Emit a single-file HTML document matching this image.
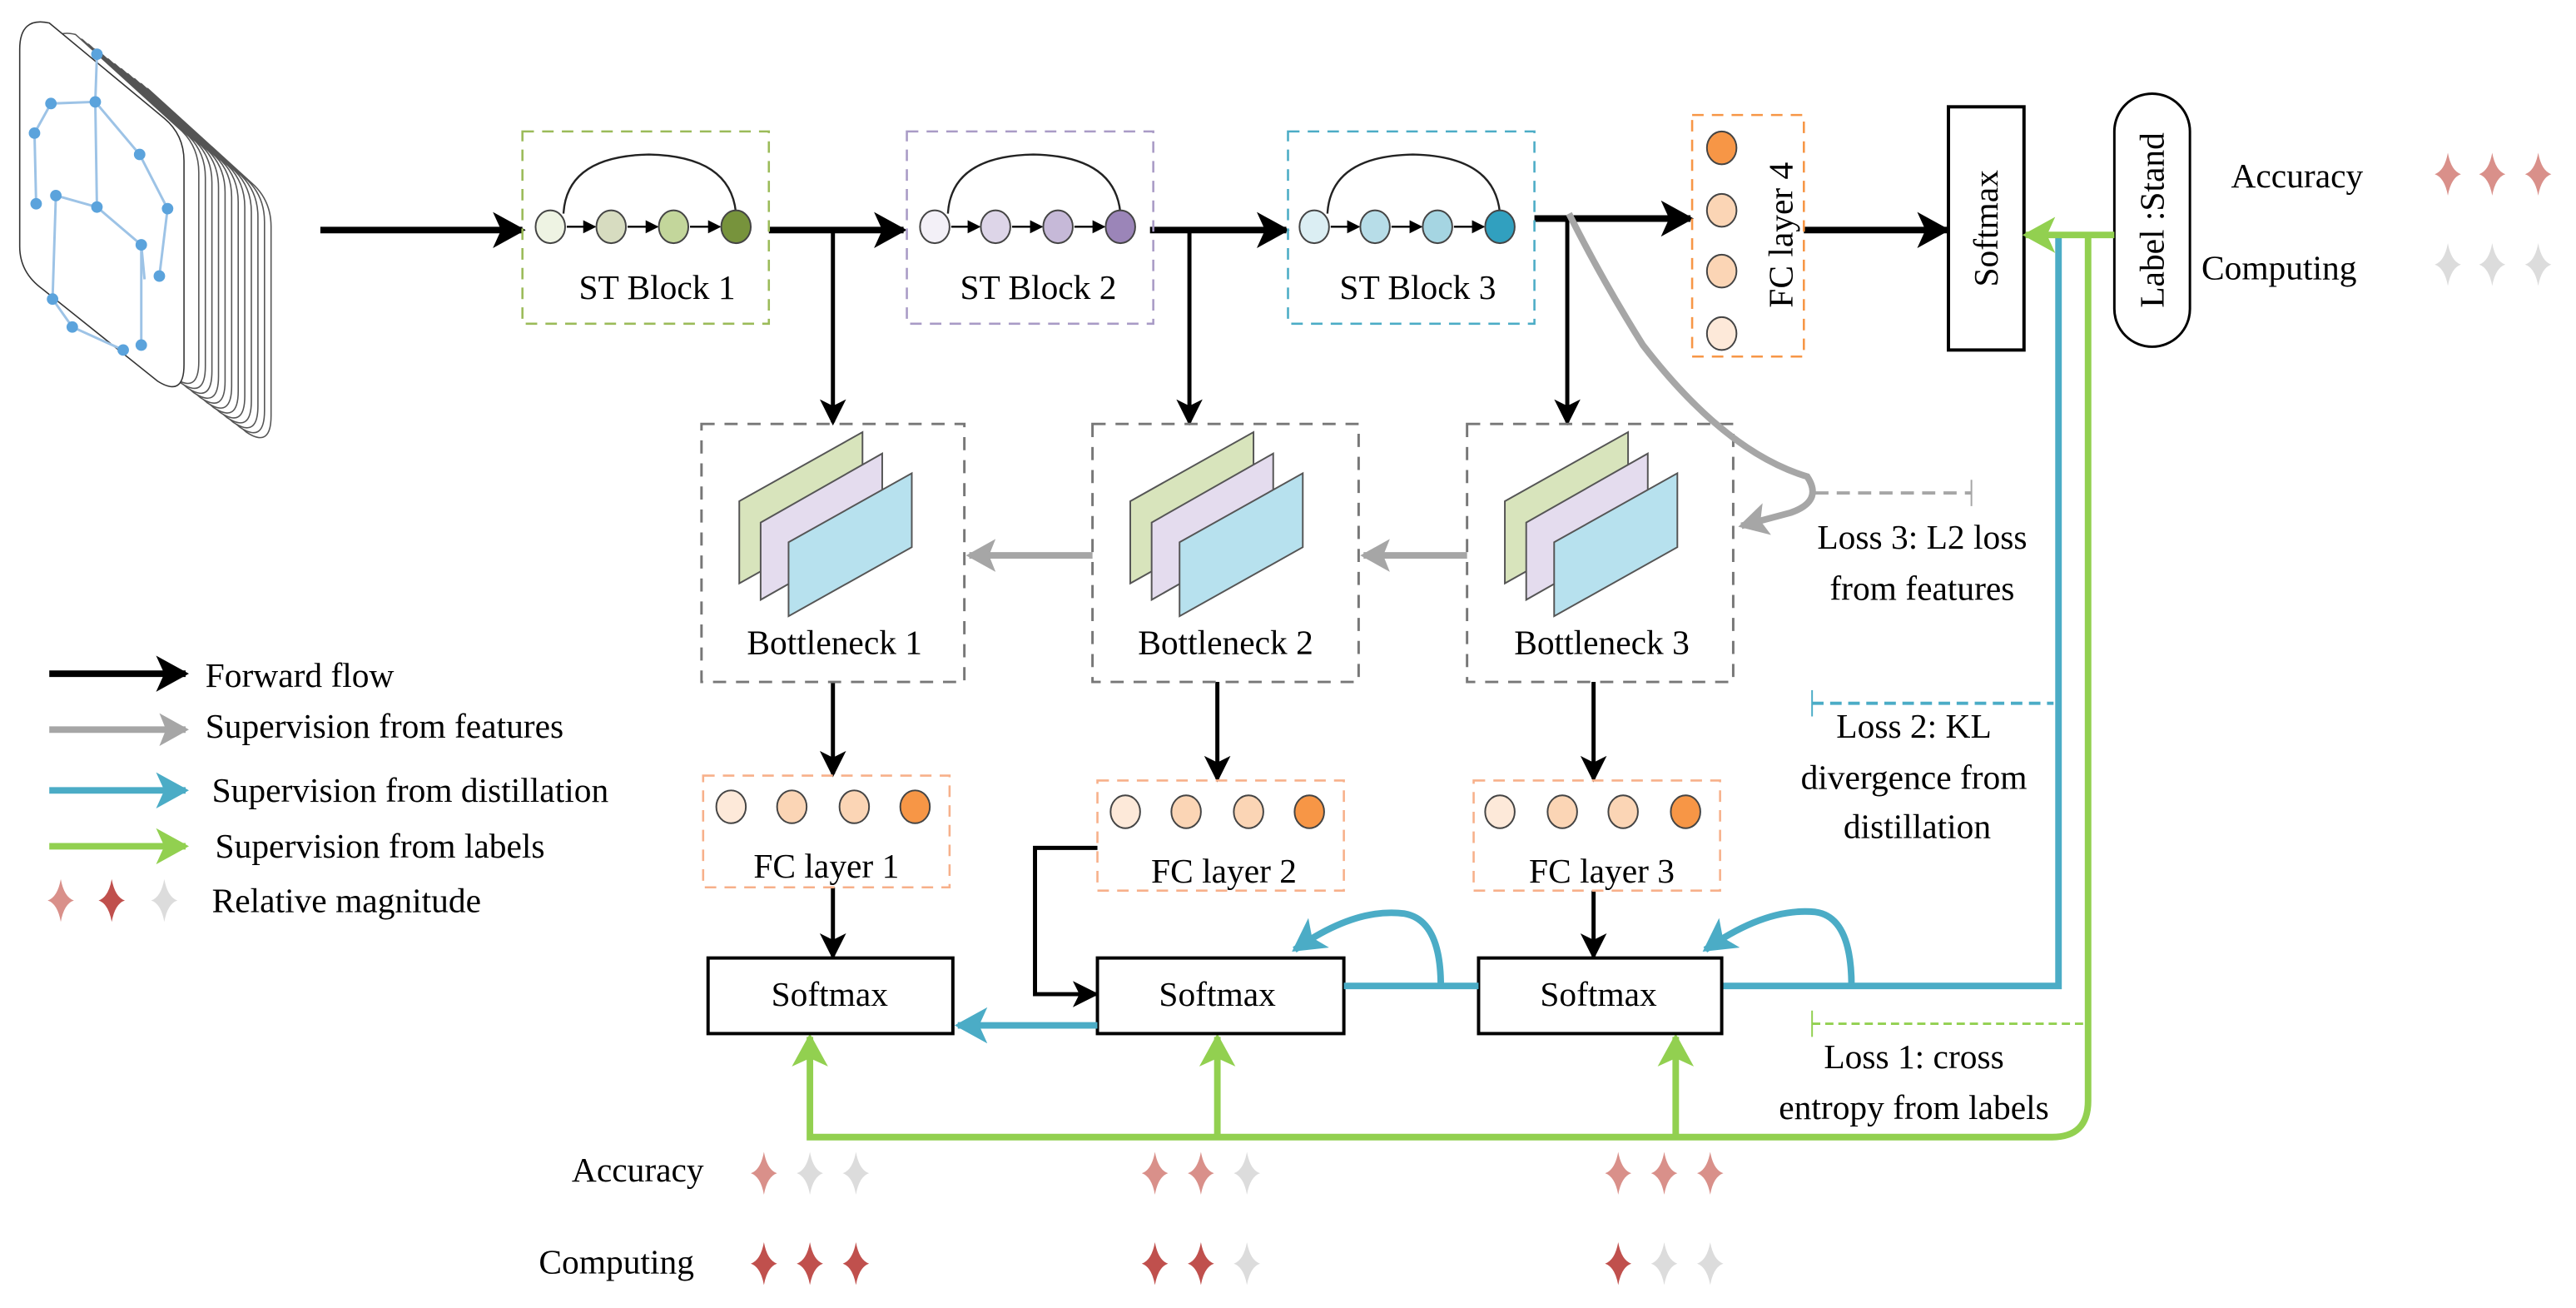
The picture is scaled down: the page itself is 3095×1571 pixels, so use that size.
<!DOCTYPE html>
<html><head><meta charset="utf-8"><style>
html,body{margin:0;padding:0;background:#fff;}
svg{display:block;}
svg text{font-family:"Liberation Serif","DejaVu Serif",serif;fill:#000;}
</style></head><body>
<svg width="3095" height="1571" viewBox="0 0 1568 796" preserveAspectRatio="none" xmlns="http://www.w3.org/2000/svg" font-family="Liberation Serif, serif">
<defs>
<marker id="kB" markerUnits="userSpaceOnUse" markerWidth="22" markerHeight="22" refX="18" refY="11" orient="auto"><path d="M0,0 L20,11 L0,22 L5,11 Z" fill="#000"/></marker>
<marker id="kS" markerUnits="userSpaceOnUse" markerWidth="16" markerHeight="16" refX="14" refY="8" orient="auto"><path d="M0,0 L16,8 L0,16 L4,8 Z" fill="#000"/></marker>
<marker id="kT" markerUnits="userSpaceOnUse" markerWidth="8" markerHeight="8" refX="7" refY="4" orient="auto"><path d="M0,0 L8,4 L0,8 Z" fill="#000"/></marker>
<marker id="gA" markerUnits="userSpaceOnUse" markerWidth="20" markerHeight="20" refX="16" refY="10" orient="auto"><path d="M0,0 L18,10 L0,20 L4,10 Z" fill="#a6a6a6"/></marker>
<marker id="bA" markerUnits="userSpaceOnUse" markerWidth="22" markerHeight="22" refX="18" refY="11" orient="auto"><path d="M0,0 L20,11 L0,22 L5,11 Z" fill="#4bacc6"/></marker>
<marker id="nA" markerUnits="userSpaceOnUse" markerWidth="22" markerHeight="22" refX="18" refY="11" orient="auto"><path d="M0,0 L20,11 L0,22 L5,11 Z" fill="#92d050"/></marker>
<path id="star" d="M0,-13 Q2,-2 8,0 Q2,2 0,13 Q-2,2 -8,0 Q-2,-2 0,-13Z"/>
</defs>

<!-- skeleton stack -->
<g fill="#fff" stroke="#555" stroke-width="0.8">
<path d="M74,68 Q74,50 90,54 L155,113 Q165,123 165,138 L165,253 Q165,273 150,263 L86,208 Q74,198 74,183 Z"/>
<path d="M70,65 Q70,47 86,51 L151,110 Q161,120 161,135 L161,250 Q161,270 146,260 L82,205 Q70,195 70,180 Z"/>
<path d="M66,62 Q66,44 82,48 L147,107 Q157,117 157,132 L157,247 Q157,267 142,257 L78,202 Q66,192 66,177 Z"/>
<path d="M62,59 Q62,41 78,45 L143,104 Q153,114 153,129 L153,244 Q153,264 138,254 L74,199 Q62,189 62,174 Z"/>
<path d="M58,56 Q58,38 74,42 L139,101 Q149,111 149,126 L149,241 Q149,261 134,251 L70,196 Q58,186 58,171 Z"/>
<path d="M54,53 Q54,35 70,39 L135,98 Q145,108 145,123 L145,238 Q145,258 130,248 L66,193 Q54,183 54,168 Z"/>
<path d="M50,50 Q50,32 66,36 L131,95 Q141,105 141,120 L141,235 Q141,255 126,245 L62,190 Q50,180 50,165 Z"/>
<path d="M46,47 Q46,29 62,33 L127,92 Q137,102 137,117 L137,232 Q137,252 122,242 L58,187 Q46,177 46,162 Z"/>
<path d="M42,44 Q42,26 58,30 L123,89 Q133,99 133,114 L133,229 Q133,249 118,239 L54,184 Q42,174 42,159 Z"/>
<path d="M38,41 Q38,23 54,27 L119,86 Q129,96 129,111 L129,226 Q129,246 114,236 L50,181 Q38,171 38,156 Z"/>
<path d="M34,38 Q34,20 50,24 L115,83 Q125,93 125,108 L125,223 Q125,243 110,233 L46,178 Q34,168 34,153 Z"/>
<path d="M30,35 Q30,17 46,21 L111,80 Q121,90 121,105 L121,220 Q121,240 106,230 L42,175 Q30,165 30,150 Z"/>
<path d="M12,30 Q12,10 30,14 L100,72 Q112,82 112,98 L112,222 Q112,242 96,232 L26,176 Q12,166 12,150 Z" stroke="#333"/>
</g>
<g stroke="#9dc3e6" stroke-width="1.5" fill="none">
<path d="M59,33 L58,62 L31,63 L21,81 L22,124"/><path d="M58,62 L59,126"/><path d="M58,62 L85,94 L102,127 L97,168"/>
<path d="M34,119 L59,126 L86,149 L88,170"/><path d="M34,119 L32,182 L44,199 L75,213"/><path d="M86,149 L86,210"/>
</g>
<g fill="#5ba3dc">
<circle cx="59" cy="33" r="3.5"/><circle cx="58" cy="62" r="3.5"/><circle cx="31" cy="63" r="3.5"/><circle cx="21" cy="81" r="3.5"/><circle cx="85" cy="94" r="3.5"/><circle cx="22" cy="124" r="3.5"/><circle cx="34" cy="119" r="3.5"/><circle cx="59" cy="126" r="3.5"/><circle cx="102" cy="127" r="3.5"/><circle cx="86" cy="149" r="3.5"/><circle cx="97" cy="168" r="3.5"/><circle cx="32" cy="182" r="3.5"/><circle cx="44" cy="199" r="3.5"/><circle cx="75" cy="213" r="3.5"/><circle cx="86" cy="210" r="3.5"/>
</g>

<!-- main forward arrows -->
<g stroke="#000" stroke-width="4" fill="none">
<line x1="195" y1="140" x2="318" y2="140" marker-end="url(#kB)"/>
<line x1="468" y1="140" x2="550" y2="140" marker-end="url(#kB)"/>
<line x1="700" y1="140" x2="783" y2="140" marker-end="url(#kB)"/>
<line x1="934" y1="133" x2="1029" y2="133" marker-end="url(#kB)"/>
<line x1="1098" y1="140" x2="1185" y2="140" marker-end="url(#kB)"/>
</g>
<g stroke="#000" stroke-width="2.5" fill="none">
<line x1="507" y1="140" x2="507" y2="257" marker-end="url(#kS)"/>
<line x1="724" y1="140" x2="724" y2="257" marker-end="url(#kS)"/>
<line x1="954" y1="133" x2="954" y2="257" marker-end="url(#kS)"/>
<line x1="507" y1="415" x2="507" y2="471" marker-end="url(#kS)"/>
<line x1="741" y1="415" x2="741" y2="474" marker-end="url(#kS)"/>
<line x1="970" y1="415" x2="970" y2="474" marker-end="url(#kS)"/>
<line x1="507" y1="540" x2="507" y2="582" marker-end="url(#kS)"/>
<line x1="970" y1="542" x2="970" y2="582" marker-end="url(#kS)"/>
<path d="M668,516 L630,516 L630,605 L667,605" marker-end="url(#kS)"/>
</g>

<!-- ST blocks -->
<g fill="none" stroke-width="1.3" stroke-dasharray="7,5">
<rect x="318" y="80" width="150" height="117" stroke="#9bbb59"/>
<rect x="552" y="80" width="150" height="117" stroke="#a99bc6"/>
<rect x="784" y="80" width="150" height="117" stroke="#4bacc6"/>
</g>
<g stroke="#222" stroke-width="1.2" fill="none">
<path d="M343,130 Q345,95 395,94 Q445,95 448,130"/>
<path d="M577,130 Q579,95 629,94 Q679,95 682,130"/>
<path d="M808,130 Q810,95 860,94 Q910,95 913,130"/>
</g>
<g stroke="#000" stroke-width="1.2" marker-end="url(#kT)">
<line x1="345" y1="138" x2="362" y2="138"/><line x1="382" y1="138" x2="400" y2="138"/><line x1="420" y1="138" x2="438" y2="138"/>
<line x1="579" y1="138" x2="596" y2="138"/><line x1="616" y1="138" x2="634" y2="138"/><line x1="654" y1="138" x2="672" y2="138"/>
<line x1="810" y1="138" x2="827" y2="138"/><line x1="847" y1="138" x2="865" y2="138"/><line x1="885" y1="138" x2="903" y2="138"/>
</g>
<g stroke="#444" stroke-width="1">
<ellipse cx="335" cy="138" rx="9" ry="10" fill="#eef3e3"/><ellipse cx="372" cy="138" rx="9" ry="10" fill="#d7dcc0"/><ellipse cx="410" cy="138" rx="9" ry="10" fill="#c3d69b"/><ellipse cx="448" cy="138" rx="9" ry="10" fill="#77933c"/>
<ellipse cx="569" cy="138" rx="9" ry="10" fill="#f3f0f7"/><ellipse cx="606" cy="138" rx="9" ry="10" fill="#ddd5e8"/><ellipse cx="644" cy="138" rx="9" ry="10" fill="#c6b9d8"/><ellipse cx="682" cy="138" rx="9" ry="10" fill="#9b85b8"/>
<ellipse cx="800" cy="138" rx="9" ry="10" fill="#dbeef3"/><ellipse cx="837" cy="138" rx="9" ry="10" fill="#b7dde8"/><ellipse cx="875" cy="138" rx="9" ry="10" fill="#a5d5e2"/><ellipse cx="913" cy="138" rx="9" ry="10" fill="#31a0bf"/>
</g>
<g font-size="21" text-anchor="middle">
<text x="400" y="182">ST Block 1</text><text x="632" y="182">ST Block 2</text><text x="863" y="182">ST Block 3</text>
</g>

<!-- FC layer 4 -->
<rect x="1030" y="70" width="68" height="147" fill="none" stroke="#f79646" stroke-width="1.3" stroke-dasharray="7,5"/>
<g stroke="#444" stroke-width="1">
<ellipse cx="1048" cy="90" rx="9" ry="10" fill="#f79646"/><ellipse cx="1048" cy="128" rx="9" ry="10" fill="#fbd5b5"/><ellipse cx="1048" cy="165" rx="9" ry="10" fill="#fbd5b5"/><ellipse cx="1048" cy="203" rx="9" ry="10" fill="#fde9d9"/>
</g>
<text x="0" y="0" font-size="21" text-anchor="middle" transform="translate(1091,143) rotate(-90)">FC layer 4</text>

<!-- top softmax and label -->
<rect x="1186" y="65" width="46" height="148" fill="#fff" stroke="#000" stroke-width="2"/>
<text font-size="21" text-anchor="middle" transform="translate(1216,139) rotate(-90)">Softmax</text>
<rect x="1287" y="57" width="46" height="154" rx="23" ry="23" fill="#fff" stroke="#000" stroke-width="1.5"/>
<text font-size="21" text-anchor="middle" transform="translate(1317,134) rotate(-90)">Label :Stand</text>

<text x="1358" y="114" font-size="21">Accuracy</text>
<text x="1340" y="170" font-size="21">Computing</text>
<g fill="#d9908a"><use href="#star" x="1490" y="106"/><use href="#star" x="1517" y="106"/><use href="#star" x="1545" y="106"/></g>
<g fill="#dcdcdc"><use href="#star" x="1490" y="161"/><use href="#star" x="1517" y="161"/><use href="#star" x="1545" y="161"/></g>

<!-- blue & green long lines -->
<path d="M1048,600 L1253,600 L1253,144" fill="none" stroke="#4bacc6" stroke-width="4"/>
<path d="M1287,143 L1233,143" fill="none" stroke="#92d050" stroke-width="4" marker-end="url(#nA)"/>
<path d="M1271,143 L1271,670 Q1271,692 1249,692 L493,692 L493,631" fill="none" stroke="#92d050" stroke-width="4" marker-end="url(#nA)"/>
<path d="M741,692 L741,631" fill="none" stroke="#92d050" stroke-width="4" marker-end="url(#nA)"/>
<path d="M1020,692 L1020,631" fill="none" stroke="#92d050" stroke-width="4" marker-end="url(#nA)"/>

<!-- Bottlenecks -->
<g fill="none" stroke="#777" stroke-width="1.5" stroke-dasharray="8,6">
<rect x="427" y="258" width="160" height="157"/>
<rect x="665" y="258" width="162" height="157"/>
<rect x="893" y="258" width="162" height="157"/>
</g>
<g stroke="#555" stroke-width="1">
<g><polygon points="450,305 525,263 525,313 450,355" fill="#d8e4bc"/><polygon points="463,318 537,276 537,323 463,365" fill="#e4dcee"/><polygon points="480,330 555,288 555,333 480,375" fill="#b7e1ee"/></g>
<g transform="translate(238,0)"><polygon points="450,305 525,263 525,313 450,355" fill="#d8e4bc"/><polygon points="463,318 537,276 537,323 463,365" fill="#e4dcee"/><polygon points="480,330 555,288 555,333 480,375" fill="#b7e1ee"/></g>
<g transform="translate(466,0)"><polygon points="450,305 525,263 525,313 450,355" fill="#d8e4bc"/><polygon points="463,318 537,276 537,323 463,365" fill="#e4dcee"/><polygon points="480,330 555,288 555,333 480,375" fill="#b7e1ee"/></g>
</g>
<g font-size="21" text-anchor="middle">
<text x="508" y="398">Bottleneck 1</text><text x="746" y="398">Bottleneck 2</text><text x="975" y="398">Bottleneck 3</text>
</g>
<g stroke="#a6a6a6" stroke-width="4" fill="none">
<line x1="665" y1="338" x2="590" y2="338" marker-end="url(#gA)"/>
<line x1="893" y1="338" x2="830" y2="338" marker-end="url(#gA)"/>
<path d="M955,130 Q975,170 1000,210 Q1050,275 1100,290 Q1110,305 1090,312 L1060,320" marker-end="url(#gA)"/>
</g>
<line x1="1105" y1="300" x2="1200" y2="300" stroke="#a6a6a6" stroke-width="2" stroke-dasharray="8,5"/>
<line x1="1200" y1="292" x2="1200" y2="308" stroke="#a6a6a6" stroke-width="1"/>
<g font-size="21" text-anchor="middle">
<text x="1170" y="334">Loss 3: L2 loss</text><text x="1170" y="365">from features</text>
</g>

<!-- FC layers -->
<g fill="none" stroke="#f7b08a" stroke-width="1.3" stroke-dasharray="7,5">
<rect x="428" y="472" width="150" height="68"/><rect x="668" y="475" width="150" height="67"/><rect x="897" y="475" width="150" height="67"/>
</g>
<g stroke="#444" stroke-width="1">
<ellipse cx="445" cy="491" rx="9" ry="10" fill="#fde9d9"/><ellipse cx="482" cy="491" rx="9" ry="10" fill="#fbd5b5"/><ellipse cx="520" cy="491" rx="9" ry="10" fill="#fbd5b5"/><ellipse cx="557" cy="491" rx="9" ry="10" fill="#f79646"/>
<ellipse cx="685" cy="494" rx="9" ry="10" fill="#fde9d9"/><ellipse cx="722" cy="494" rx="9" ry="10" fill="#fbd5b5"/><ellipse cx="760" cy="494" rx="9" ry="10" fill="#fbd5b5"/><ellipse cx="797" cy="494" rx="9" ry="10" fill="#f79646"/>
<ellipse cx="913" cy="494" rx="9" ry="10" fill="#fde9d9"/><ellipse cx="951" cy="494" rx="9" ry="10" fill="#fbd5b5"/><ellipse cx="988" cy="494" rx="9" ry="10" fill="#fbd5b5"/><ellipse cx="1026" cy="494" rx="9" ry="10" fill="#f79646"/>
</g>
<g font-size="21" text-anchor="middle">
<text x="503" y="534">FC layer 1</text><text x="745" y="537">FC layer 2</text><text x="975" y="537">FC layer 3</text>
</g>

<!-- softmax boxes -->
<g fill="#fff" stroke="#000" stroke-width="2">
<rect x="431" y="583" width="149" height="46"/><rect x="668" y="583" width="150" height="46"/><rect x="900" y="583" width="148" height="46"/>
</g>
<g font-size="21" text-anchor="middle">
<text x="505" y="612">Softmax</text><text x="741" y="612">Softmax</text><text x="973" y="612">Softmax</text>
</g>
<g stroke="#4bacc6" stroke-width="4" fill="none">
<line x1="668" y1="624" x2="583" y2="624" marker-end="url(#bA)"/>
<line x1="900" y1="600" x2="818" y2="600"/>
<path d="M877,600 Q877,560 855,556 Q825,552 788,578" marker-end="url(#bA)"/>
<path d="M1127,600 Q1127,558 1105,555 Q1075,552 1038,578" marker-end="url(#bA)"/>
</g>

<!-- Loss 2 / Loss 1 -->
<line x1="1103" y1="428" x2="1250" y2="428" stroke="#4bacc6" stroke-width="2" stroke-dasharray="7,4"/>
<line x1="1103" y1="420" x2="1103" y2="436" stroke="#4bacc6" stroke-width="1"/>
<line x1="1103" y1="623" x2="1268" y2="623" stroke="#92d050" stroke-width="1.5" stroke-dasharray="5,3"/>
<line x1="1103" y1="615" x2="1103" y2="631" stroke="#92d050" stroke-width="1"/>
<g font-size="21" text-anchor="middle">
<text x="1165" y="449">Loss 2: KL</text><text x="1165" y="480">divergence from</text><text x="1167" y="510">distillation</text>
<text x="1165" y="650">Loss 1: cross</text><text x="1165" y="681">entropy from labels</text>
</g>

<!-- legend -->
<line x1="30" y1="410" x2="113" y2="410" stroke="#000" stroke-width="4" marker-end="url(#kB)"/>
<line x1="30" y1="444" x2="113" y2="444" stroke="#a6a6a6" stroke-width="4" marker-end="url(#gA)"/>
<line x1="30" y1="481" x2="113" y2="481" stroke="#4bacc6" stroke-width="4" marker-end="url(#bA)"/>
<line x1="30" y1="515" x2="113" y2="515" stroke="#92d050" stroke-width="4" marker-end="url(#nA)"/>
<g font-size="21">
<text x="125" y="418">Forward flow</text><text x="125" y="449">Supervision from features</text><text x="129" y="488">Supervision from distillation</text><text x="131" y="522">Supervision from labels</text><text x="129" y="555">Relative magnitude</text>
</g>
<use href="#star" x="37" y="548" fill="#d9908a"/><use href="#star" x="68" y="548" fill="#c0504d"/><use href="#star" x="100" y="548" fill="#dcdcdc"/>

<!-- bottom ratings -->
<g font-size="21"><text x="348" y="719">Accuracy</text><text x="328" y="775">Computing</text></g>
<g fill="#d9908a"><use href="#star" x="465" y="714"/><use href="#star" x="703" y="714"/><use href="#star" x="731" y="714"/><use href="#star" x="985" y="714"/><use href="#star" x="1013" y="714"/><use href="#star" x="1041" y="714"/></g>
<g fill="#dcdcdc"><use href="#star" x="493" y="714"/><use href="#star" x="521" y="714"/><use href="#star" x="759" y="714"/><use href="#star" x="759" y="769"/><use href="#star" x="1013" y="769"/><use href="#star" x="1041" y="769"/></g>
<g fill="#c0504d"><use href="#star" x="465" y="769"/><use href="#star" x="493" y="769"/><use href="#star" x="521" y="769"/><use href="#star" x="703" y="769"/><use href="#star" x="731" y="769"/><use href="#star" x="985" y="769"/></g>
</svg>
</body></html>
